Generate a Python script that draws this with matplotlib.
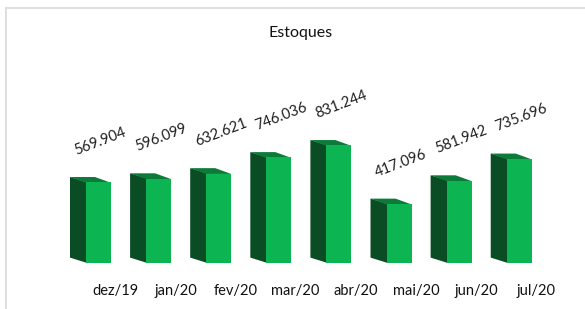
import matplotlib.pyplot as plt
from matplotlib.patches import Polygon
from matplotlib.lines import Line2D
import numpy as np

# dados
meses = ["dez/19", "jan/20", "fev/20", "mar/20", "abr/20", "mai/20", "jun/20", "jul/20"]
estoques = [569904, 596099, 632621, 746036, 831244, 417096, 581942, 735696]

plt.rcParams['font.family'] = ['Lato', 'DejaVu Sans']

fig = plt.figure(figsize=(5.85, 3.09), dpi=100)
ax = fig.add_axes([0.0913, 0.1489, 0.8733, 0.595])

x = np.arange(len(meses))
ax.set_xlim(-0.75, 7.75)
ax.set_ylim(0, 1300000)

# profundidade do efeito 3D (em unidades dos eixos)
dx = -0.266
dy = 38000
sob = 0.02  # sobreposição para não aparecer fresta entre as faces

frente = "#0db552"
lado = "#0a4c24"
topo = "#0c7a39"

bars = ax.bar(x, estoques, width=0.416, color=frente, lw=0, zorder=3)
for b in bars:
    x0 = b.get_x()
    x1 = x0 + b.get_width()
    h = b.get_height()
    # face lateral esquerda
    ax.add_patch(Polygon([(x0 + sob, 0), (x0 + sob, h), (x0 + dx, h + dy), (x0 + dx, dy)],
                         closed=True, facecolor=lado, zorder=2, lw=0))
    # face superior
    ax.add_patch(Polygon([(x0, h - 3000), (x1, h - 3000), (x1 + dx, h + dy), (x0 + dx, h + dy)],
                         closed=True, facecolor=topo, zorder=2, lw=0))

# rótulos de valores
for xi, v in zip(x, estoques):
    txt = f"{v:,}".replace(",", ".")
    ax.annotate(txt, (xi, v), xytext=(1.5, 29.5), textcoords="offset points",
                ha="center", va="center", rotation=21, fontsize=10.5, color="#1f1f1f")

ax.set_xticks(x + 0.28, meses)
ax.tick_params(axis="x", length=0, pad=15, labelsize=10.5, labelcolor="#111111")
ax.set_yticks([])
for s in ax.spines.values():
    s.set_visible(False)

fig.text(0.513, 0.893, "Estoques", ha="center", va="center", fontsize=11.5, color="#111111")

# moldura
fig.add_artist(Line2D([0.0103, 1.0], [0.9725, 0.9725], color="#dcdcdc", lw=1.3))
fig.add_artist(Line2D([0.0111, 0.0111], [0.0, 0.9725], color="#dcdcdc", lw=1.3))

fig.savefig("out.png", dpi=100)
